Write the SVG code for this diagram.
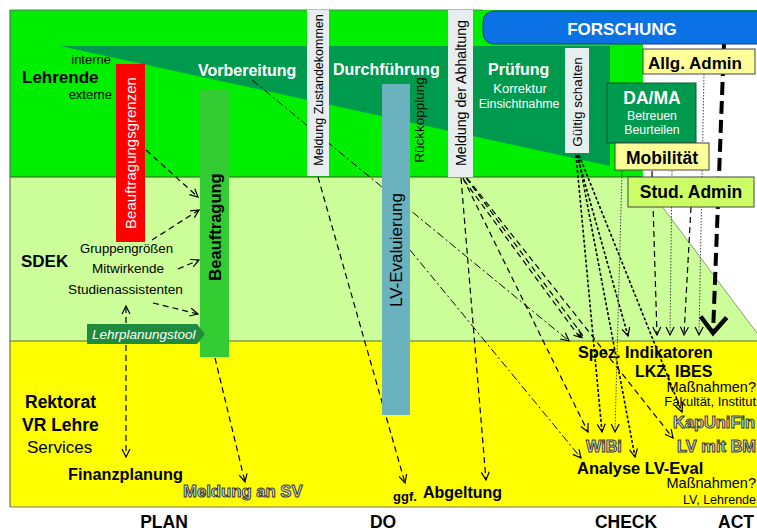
<svg xmlns="http://www.w3.org/2000/svg" width="757" height="532" viewBox="0 0 757 532">
<defs>
<style>
text{font-family:"Liberation Sans",Arial,sans-serif;fill:#000}
.b{font-weight:bold}
.w{fill:#fff}
.ol{font-weight:bold;fill:#e2e2e2;stroke:#3a3a3a;stroke-width:1px}
.c{fill:none;stroke:#000;stroke-width:1.2}
.dash{stroke-dasharray:6,4}
.dd{stroke-dasharray:8,3,2,3;stroke-width:1}
.dot{stroke:#444;stroke-width:1;stroke-dasharray:1.5,1.5}
.g{stroke-dasharray:3,2;stroke-width:1.6}
.lb{fill:#e6eef0}
</style>
<marker id="a" markerWidth="12" markerHeight="12" refX="10" refY="6" orient="auto" markerUnits="userSpaceOnUse"><path d="M2,2 L10,6 L2,10" fill="none" stroke="#000" stroke-width="1.2"/></marker>
<marker id="ab" markerWidth="24" markerHeight="32" refX="20" refY="16" orient="auto" markerUnits="userSpaceOnUse"><path d="M3,3 L19,16 L3,29" fill="none" stroke="#000" stroke-width="4.5"/></marker>
</defs>

<g id="bands">
<rect x="10" y="10" width="747" height="34" fill="#00ee00"/>
<rect x="10" y="10" width="633" height="167" fill="#00ee00"/>
<polygon points="10,177 640,177 757,333 757,341 10,341" fill="#ccff99"/>
<rect x="10" y="341" width="747" height="166" fill="#ffff00"/>
<polygon points="60,46 610,46 610,166" fill="#009a4e"/>
<line x1="10" y1="177" x2="643" y2="177" stroke="#3d5a20" stroke-width="1"/>
<line x1="10" y1="341" x2="757" y2="341" stroke="#5a6a20" stroke-width="1"/>
<line x1="10" y1="507" x2="757" y2="507" stroke="#777" stroke-width="1"/>
<line x1="10" y1="10" x2="10" y2="507" stroke="#555" stroke-width="1"/>
<line x1="10" y1="10" x2="483" y2="10" stroke="#555" stroke-width="0.8"/>
<line x1="640" y1="177" x2="757" y2="333" stroke="#6a8a50" stroke-width="0.8"/>
</g>

<g id="connectors">
<path class="c dash" d="M146,150 L198,197" marker-end="url(#a)"/>
<path class="c dash" d="M152,240 L199,210" marker-end="url(#a)"/>
<path class="c dash" d="M178,269 L199,260" marker-end="url(#a)"/>
<path class="c dash" d="M153,303 L198,314" marker-end="url(#a)"/>
<path class="c dash" d="M126,323 L126,306" marker-end="url(#a)"/>
<path class="c dash" d="M126,345 L126,457" marker-end="url(#a)"/>
<path class="c dash" d="M215,358 L245,482" marker-end="url(#a)"/>
<path class="c dash" d="M318,177 L405,483" marker-end="url(#a)"/>
<path class="c dd" d="M252,80 L569,341" marker-end="url(#a)"/>
<path class="c dd" d="M410,250 L581,458" marker-end="url(#a)"/>
<path class="c dash" d="M461,178 L486,480" marker-end="url(#a)"/>
<path class="c dash" d="M463,178 L588,432" marker-end="url(#a)"/>
<path class="c dash" d="M466.2,178.1 L583.2,336.1"/>
<path class="c dash" d="M463.8,179.9 L580.8,338.9"/>
<path class="c" d="M578,334 L582,337.5" marker-end="url(#a)"/>
<path class="c dash" d="M467,178 L673,438" marker-end="url(#a)"/>
<path class="c g" d="M576,155 L602,432" marker-end="url(#a)"/>
<path class="c g" d="M577,155 L628,336" marker-end="url(#a)"/>
<path class="c g" d="M578,155 L635,457" marker-end="url(#a)"/>
<path class="c g" d="M579,155 L682,412" marker-end="url(#a)"/>
<path class="c dot" d="M622,171 L615,432" marker-end="url(#a)"/>
<path class="c dash" d="M652,171 L657,335" marker-end="url(#a)"/>
<path class="c dot" d="M672,171 L670,335" marker-end="url(#a)"/>
<path class="c dash" d="M691,207 L684,335" marker-end="url(#a)"/>
<path class="c dot" d="M704,74 L699,335" marker-end="url(#a)"/>
<path fill="none" stroke="#000" stroke-width="4" stroke-dasharray="13,6" d="M724,44 L713,334" marker-end="url(#ab)"/>
</g>

<g id="lehrende">
<text x="111" y="64" font-size="13" text-anchor="end">interne</text>
<text x="22" y="83" font-size="17" class="b">Lehrende</text>
<text x="112" y="99" font-size="13" text-anchor="end">externe</text>
</g>
<g id="phases">
<text x="198" y="76" font-size="16" class="b w">Vorbereitung</text>
<text x="333" y="75" font-size="16" class="b w">Durchführung</text>
<text x="488" y="75" font-size="16" class="b w">Prüfung</text>
<text x="520" y="93" font-size="13" class="w" text-anchor="middle">Korrektur</text>
<text x="519" y="108" font-size="12.3" class="w" text-anchor="middle">Einsichtnahme</text>
</g>

<g id="beauftragungsgrenzen">
<rect x="116" y="64" width="29" height="178" fill="#ff0000"/>
<text transform="translate(136,153) rotate(-90)" font-size="15" class="w" text-anchor="middle">Beauftragungsgrenzen</text>
</g>
<g id="beauftragung">
<rect x="200" y="90" width="29" height="267" fill="#33cc33"/>
<text transform="translate(221,227) rotate(-90)" font-size="16.5" class="b" text-anchor="middle">Beauftragung</text>
</g>
<g id="meldung-zustandekommen">
<rect x="307" y="10" width="22" height="166" class="lb"/>
<text transform="translate(322.5,90) rotate(-90)" font-size="12.5" text-anchor="middle">Meldung Zustandekommen</text>
</g>
<g id="lv-evaluierung">
<rect x="382" y="84" width="28" height="331" fill="#6ab2be"/>
<text transform="translate(402,250) rotate(-90)" font-size="17" text-anchor="middle">LV-Evaluierung</text>
</g>
<g id="rueckkopplung">
<text transform="translate(424,120) rotate(-90)" font-size="13.5" text-anchor="middle">Rückkopplung</text>
</g>
<g id="meldung-abhaltung">
<rect x="448" y="10" width="25" height="167" class="lb"/>
<text transform="translate(465.5,93) rotate(-90)" font-size="14.2" text-anchor="middle">Meldung der Abhaltung</text>
</g>
<g id="gueltig-schalten">
<rect x="565" y="48" width="24" height="105" class="lb"/>
<text transform="translate(582,102) rotate(-90)" font-size="13.5" text-anchor="middle">Gültig schalten</text>
</g>

<g id="forschung">
<rect x="483" y="11" width="290" height="33" rx="11" fill="#0a72e4" stroke="#1a3a80" stroke-width="1"/>
<text x="622" y="35" font-size="17" class="b w" text-anchor="middle">FORSCHUNG</text>
</g>
<g id="allg-admin">
<rect x="643" y="49" width="112" height="25" fill="#ffff99" stroke="#444" stroke-width="1"/>
<text x="695" y="69" font-size="17" class="b" text-anchor="middle">Allg. Admin</text>
</g>
<g id="dama">
<rect x="607" y="83" width="89" height="60" fill="#009a4e" stroke="#0a5a2a" stroke-width="1"/>
<text x="652" y="104" font-size="17.5" class="b w" text-anchor="middle">DA/MA</text>
<text x="652" y="120" font-size="12.3" class="w" text-anchor="middle">Betreuen</text>
<text x="652" y="134" font-size="12.3" class="w" text-anchor="middle">Beurteilen</text>
</g>
<g id="mobilitaet">
<rect x="615" y="143" width="94" height="27" fill="#ffff99" stroke="#444" stroke-width="1"/>
<text x="662" y="164" font-size="17.5" class="b" text-anchor="middle">Mobilität</text>
</g>
<g id="stud-admin">
<rect x="628" y="177" width="126" height="30" fill="#ccff66" stroke="#444" stroke-width="1"/>
<text x="691" y="198" font-size="17.5" class="b" text-anchor="middle">Stud. Admin</text>
</g>

<g id="sdek">
<text x="21" y="267" font-size="17" class="b">SDEK</text>
<text x="126.5" y="253" font-size="13.2" text-anchor="middle">Gruppengrößen</text>
<text x="128" y="273" font-size="13.5" text-anchor="middle">Mitwirkende</text>
<text x="125.5" y="294" font-size="13.6" text-anchor="middle">Studienassistenten</text>
</g>
<g id="lehrplanungstool">
<polygon points="87,324 197,324 205,334 197,344 87,344" fill="#1e8c3c"/>
<text x="92" y="339" font-size="13.5" font-style="italic" class="w">Lehrplanungstool</text>
</g>

<g id="rektorat">
<text x="25" y="408" font-size="17.5" class="b">Rektorat</text>
<text x="22" y="431" font-size="17.5" class="b">VR Lehre</text>
<text x="27" y="453" font-size="17">Services</text>
</g>
<g id="finanzplanung"><text x="68" y="480" font-size="16.3" class="b">Finanzplanung</text></g>
<g id="meldung-sv"><text x="183" y="497" font-size="16.7" class="ol">Meldung an SV</text></g>
<g id="abgeltung">
<text x="393" y="501" font-size="13" class="b">ggf.</text>
<text x="423" y="498" font-size="16" class="b">Abgeltung</text>
</g>
<g id="spez"><text x="578" y="358" font-size="16.3" class="b">Spez. Indikatoren</text></g>
<g id="lkz"><text x="635" y="377" font-size="16" class="b">LKZ, IBES</text></g>
<g id="massnahmen1">
<text x="756" y="392" font-size="14.5" text-anchor="end">Maßnahmen?</text>
<text x="756" y="406" font-size="13" text-anchor="end">Fakultät, Institut</text>
</g>
<g id="kapunifin"><text x="755" y="428" font-size="16.4" class="ol" text-anchor="end">KapUniFin</text></g>
<g id="wibi"><text x="586" y="452" font-size="16.2" class="ol">WiBi</text></g>
<g id="lv-bm"><text x="756" y="452" font-size="16.4" class="ol" text-anchor="end">LV mit BM</text></g>
<g id="analyse"><text x="577" y="474" font-size="16.5" class="b">Analyse LV-Eval</text></g>
<g id="massnahmen2">
<text x="756" y="488" font-size="14.5" text-anchor="end">Maßnahmen?</text>
<text x="756" y="504" font-size="12.5" text-anchor="end">LV, Lehrende</text>
</g>

<g id="axis">
<text x="164" y="528" font-size="17.5" class="b" text-anchor="middle">PLAN</text>
<text x="383" y="528" font-size="17.5" class="b" text-anchor="middle">DO</text>
<text x="626" y="528" font-size="17.5" class="b" text-anchor="middle">CHECK</text>
<text x="736" y="528" font-size="17.5" class="b" text-anchor="middle">ACT</text>
</g>
</svg>
